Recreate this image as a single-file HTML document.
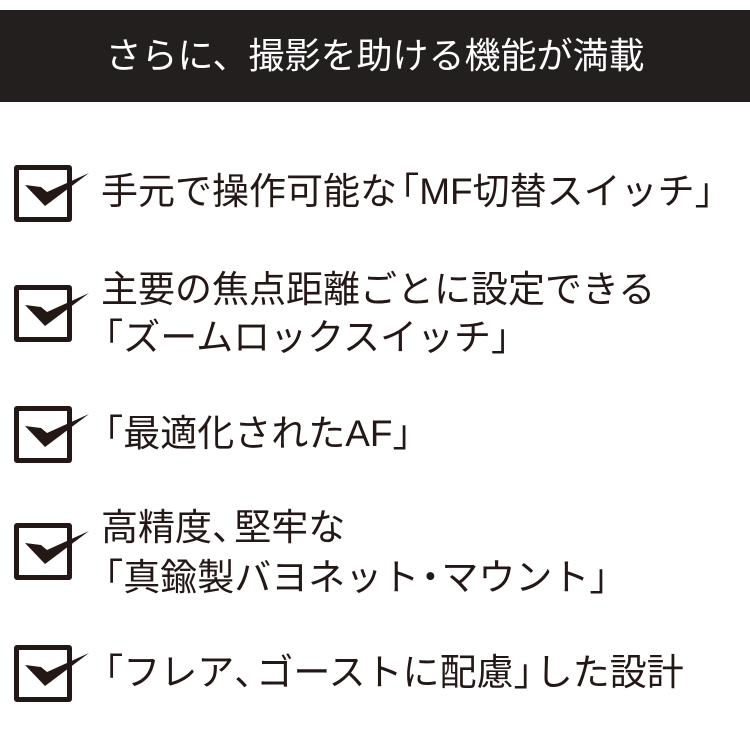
<!DOCTYPE html>
<html><head><meta charset="utf-8"><style>
body{margin:0;width:750px;height:750px;background:#fff;position:relative;overflow:hidden;font-family:"Liberation Sans","Noto Sans CJK JP",sans-serif;color:#231815}
.hd{position:absolute;left:0;top:10px;width:750px;height:92px;background:#231f1f;color:#fff;font-size:36px;text-align:center;line-height:92px;letter-spacing:0}
.ic{position:absolute;left:14px;width:48px;height:47px;border:5px solid #231815;border-radius:3px}
.ic svg{position:absolute;left:0;top:0;overflow:visible}
.t{position:absolute;left:101px;font-size:37px;line-height:48px;white-space:nowrap;letter-spacing:0}
.o{margin-left:-0.4em}
.c{letter-spacing:-0.4em}
.d{margin:0 -0.2em}
</style></head><body>
<div class="hd">さらに、撮影を助ける機能が満載</div>

<div class="ic" style="top:165px"><svg width="48" height="47"><polygon points="6,15 26,36 70,3 28,22 22,17" fill="#231815"/></svg></div>
<div class="t" style="top:168px">手元で操作可能な<span class="o">「</span>MF切替スイッチ」</div>

<div class="ic" style="top:285px"><svg width="48" height="47"><polygon points="6,15 26,36 70,3 28,22 22,17" fill="#231815"/></svg></div>
<div class="t" style="top:266px">主要の焦点距離ごとに設定できる</div>
<div class="t" style="top:314px"><span class="o">「</span>ズームロックスイッチ」</div>

<div class="ic" style="top:406px"><svg width="48" height="47"><polygon points="6,15 26,36 70,3 28,22 22,17" fill="#231815"/></svg></div>
<div class="t" style="top:410px"><span class="o">「</span>最適化されたAF」</div>

<div class="ic" style="top:523px"><svg width="48" height="47"><polygon points="6,15 26,36 70,3 28,22 22,17" fill="#231815"/></svg></div>
<div class="t" style="top:504px">高精度<span class="c">、</span>堅牢な</div>
<div class="t" style="top:554px"><span class="o">「</span>真鍮製バヨネット<span class="d">・</span>マウント」</div>

<div class="ic" style="top:645px"><svg width="48" height="47"><polygon points="6,15 26,36 70,3 28,22 22,17" fill="#231815"/></svg></div>
<div class="t" style="top:649px"><span class="o">「</span>フレア<span class="c">、</span>ゴーストに配慮<span class="c">」</span>した設計</div>
</body></html>
